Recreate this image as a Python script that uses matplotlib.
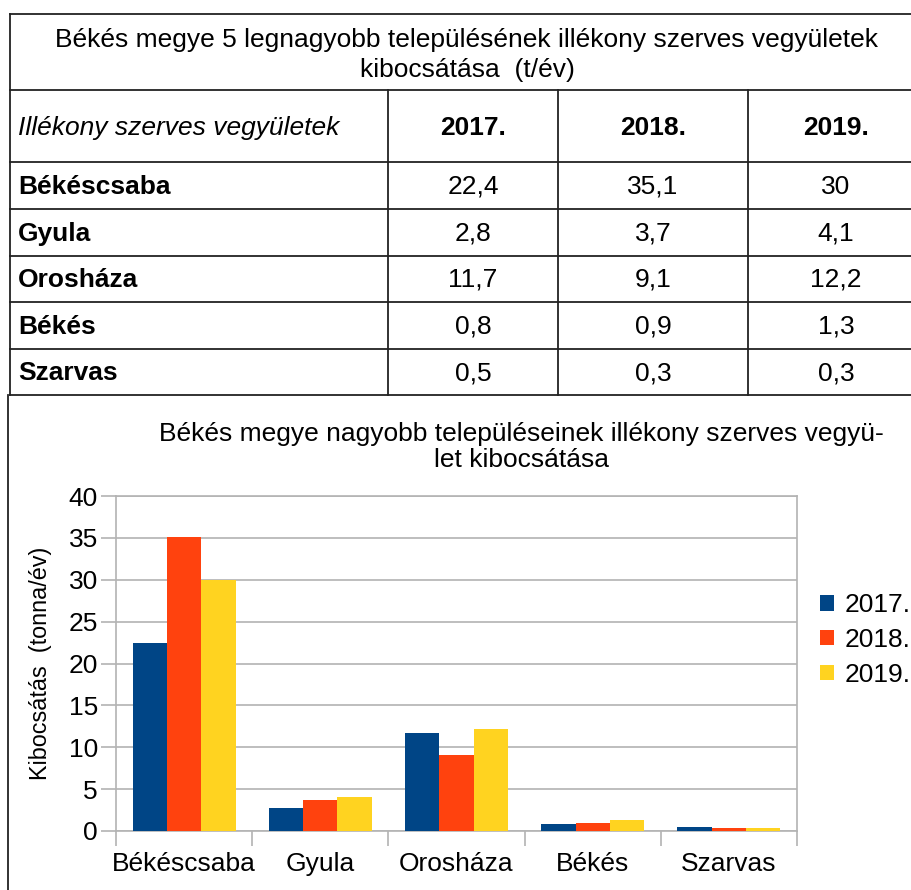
import matplotlib
matplotlib.use("Agg")
import matplotlib.pyplot as plt
import numpy as np
from matplotlib.lines import Line2D
from matplotlib.patches import Patch

plt.rcParams['font.family'] = ['Liberation Sans', 'DejaVu Sans']

# ---- data ----
table_title = "Békés megye 5 legnagyobb településének illékony szerves vegyületek\nkibocsátása  (t/év)"
header_label = "Illékony szerves vegyületek"
years = ["2017.", "2018.", "2019."]
towns = ["Békéscsaba", "Gyula", "Orosháza", "Békés", "Szarvas"]
v2017 = [22.4, 2.8, 11.7, 0.8, 0.5]
v2018 = [35.1, 3.7, 9.1, 0.9, 0.3]
v2019 = [30.0, 4.1, 12.2, 1.3, 0.3]
chart_title = "Békés megye nagyobb településeinek illékony szerves vegyü-\nlet kibocsátása"
y_label = "Kibocsátás  (tonna/év)"
y_ticks = [0, 5, 10, 15, 20, 25, 30, 35, 40]
colors = ["#004586", "#ff420e", "#ffd320"]

W, H = 912, 890
fig = plt.figure(figsize=(W / 100, H / 100), dpi=100)

# background axes in pixel coords for the table
bg = fig.add_axes([0, 0, 1, 1])
bg.set_xlim(0, W)
bg.set_ylim(H, 0)
bg.axis('off')

lc = "#222222"
lw = 1.3
x_left, x_right = 10, 930
col_x = [388, 558, 748]
row_y = [13.5, 90, 162, 209, 256, 302, 349, 395]
for y in row_y:
    bg.add_line(Line2D([x_left, x_right], [y, y], color=lc, lw=lw))
bg.add_line(Line2D([x_left, x_left], [row_y[0], row_y[-1]], color=lc, lw=lw))
for x in col_x:
    bg.add_line(Line2D([x, x], [row_y[1], row_y[-1]], color=lc, lw=lw))
bg.add_line(Line2D([8, 8], [row_y[-1], H], color=lc, lw=lw))

fs_tab = 19
bg.text(467, 55, table_title, ha='center', va='center', fontsize=fs_tab,
        linespacing=1.27, multialignment='center')
bg.text(18, 128, header_label, ha='left', va='center', fontsize=fs_tab, style='italic')
col_centers = [473, 653, 836]
for cx, yr in zip(col_centers, years):
    bg.text(cx, 128, yr, ha='center', va='center', fontsize=fs_tab, fontweight='bold')

row_centers = [(row_y[i] + row_y[i + 1]) / 2 for i in range(2, 7)]
series = [v2017, v2018, v2019]
for i, town in enumerate(towns):
    yc = row_centers[i] + 1
    bg.text(18, yc, town, ha='left', va='center', fontsize=fs_tab, fontweight='bold')
    for cx, s in zip(col_centers, series):
        txt = ("%g" % s[i]).replace('.', ',')
        bg.text(cx, yc, txt, ha='center', va='center', fontsize=fs_tab)

# ---- chart ----
pl, pr, pt, pb = 116, 797, 496, 831
ax = fig.add_axes([pl / W, 1 - pb / H, (pr - pl) / W, (pb - pt) / H])
x = np.arange(len(towns))
bw = 0.252
for k, (s, c, yr) in enumerate(zip(series, colors, years)):
    ax.bar(x + (k - 1) * bw, s, width=bw, color=c, label=yr, zorder=3)

ax.set_xlim(-0.5, len(towns) - 0.5)
ax.set_ylim(0, 40)
ax.set_yticks(y_ticks)
ax.set_yticklabels([str(t) for t in y_ticks], fontsize=19)
ax.yaxis.grid(True, color="#b3b3b3", lw=1.2, zorder=0)
ax.tick_params(axis='y', length=11, width=1.2, color="#b3b3b3", pad=2)
ax.set_xticks(x)
ax.set_xticklabels(towns, fontsize=19)
ax.tick_params(axis='x', length=0, pad=15)
ax.set_xticks(np.arange(-0.5, len(towns)), minor=True)
ax.tick_params(axis='x', which='minor', length=11, width=1.2, color="#b3b3b3")
for sp in ax.spines.values():
    sp.set_color("#b3b3b3")
    sp.set_linewidth(1.2)
ax.set_ylabel(y_label, fontsize=16.8, labelpad=12)

fig.text(521 / W, 1 - 447 / H, chart_title, ha='center', va='center', fontsize=19,
         linespacing=1.15, multialignment='center')

handles = [Patch(facecolor=c, edgecolor='none') for c in colors]
fig.legend(handles, years, loc='center left', bbox_to_anchor=(820 / W, 1 - 640 / H),
           frameon=False, fontsize=19, handlelength=0.52, handleheight=0.52,
           handletextpad=0.4, labelspacing=0.4, borderaxespad=0, borderpad=0)

fig.savefig("out.png", dpi=100)
